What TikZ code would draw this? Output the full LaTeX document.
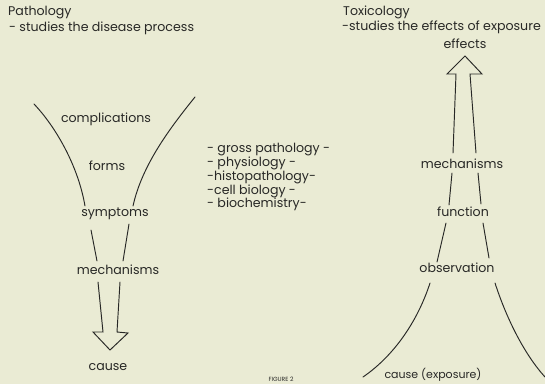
\documentclass[tikz,border=0pt]{standalone}
\usepackage{fontspec}
\setmainfont{Poppins}
\definecolor{paper}{RGB}{234,235,212}
\definecolor{ink}{RGB}{40,40,38}
\begin{document}
\begin{tikzpicture}[x=1pt,y=-1pt,
  lbl/.style={inner sep=0pt,text=ink,font=\fontsize{12.6}{14}\selectfont},
  hd/.style={lbl,anchor=west},
  stroke/.style={draw=ink,line width=0.95pt,line cap=round,line join=miter}]
\fill[paper] (0,0) rectangle (545,384);
\useasboundingbox (0,0) rectangle (545,384);
% headings
\node[hd] (path) at (8,13) {Pathology};
\node[hd] (pathsub) at (9,28) {- studies the disease process};
\node[hd] (tox) at (343,12) {Toxicology};
\node[hd] (toxsub) at (342,27) {-studies the effects of exposure};
% left funnel labels
\node[lbl] (compl) at (106,119) {complications};
\node[lbl] (forms) at (107,166) {forms};
\node[lbl] (sympt) at (115,214) {symptoms};
\node[lbl] (mechL) at (118,270) {mechanisms};
\node[lbl] (causeL) at (108,367) {cause};
% middle list
\node[hd] (l1) at (207,150) {- gross pathology -};
\node[hd] (l2) at (207,163) {- physiology -};
\node[hd] (l3) at (207,177) {-histopathology-};
\node[hd] (l4) at (207,191) {-cell biology -};
\node[hd] (l5) at (207,204) {- biochemistry-};
% right labels
\node[lbl] (effects) at (465,44) {effects};
\node[lbl] (mechR) at (462,164) {mechanisms};
\node[lbl] (func) at (463,212) {function};
\node[lbl] (obs) at (457,268) {observation};
\node[lbl,font=\fontsize{11}{13}\selectfont] (causeR) at (433,375) {cause (exposure)};
\node[lbl,font=\fontsize{6}{7}\selectfont] (fig) at (281,379) {FIGURE 2};
% left funnel curves
\draw[stroke] (34,104) .. controls (55,126) and (78,165) .. (85,206);
\draw[stroke] (195,97) .. controls (170,128) and (142,165) .. (133,206);
\draw[stroke] (91,230) -- (97,261);
\draw[stroke] (129,224) -- (123,261);
% down arrow
\draw[stroke] (98,282) -- (103,332) -- (93,332) -- (110,350) -- (128,333) -- (117,332) -- (120,282);
% up arrow
\draw[stroke] (453,153) -- (456,74) -- (447,74) -- (465,56) -- (482,74) -- (470,74) -- (476,153);
% right tower lines
\draw[stroke] (452,173) -- (449,205);
\draw[stroke] (478,173) -- (481,204);
\draw[stroke] (446,223) -- (437,262);
\draw[stroke] (483,223) -- (489,258);
\draw[stroke] (430,283) .. controls (418,320) and (395,355) .. (363,377);
\draw[stroke] (495,283) .. controls (507,320) and (525,355) .. (545,377);
\end{tikzpicture}
\end{document}
